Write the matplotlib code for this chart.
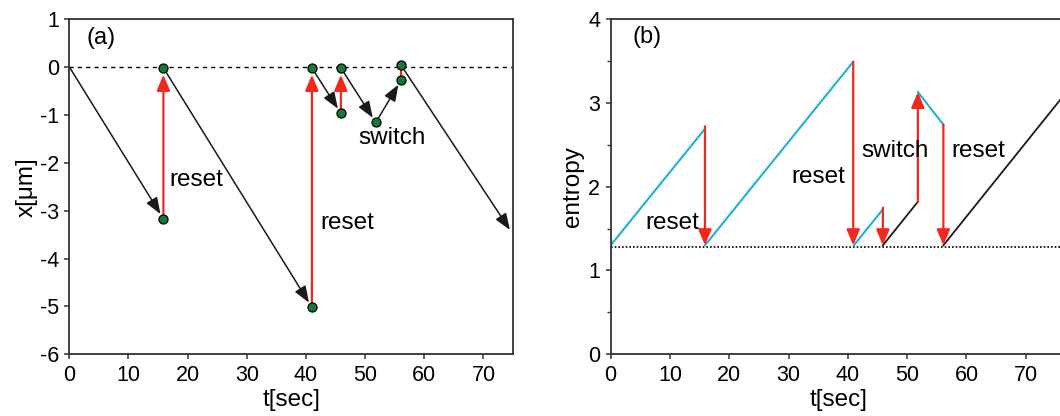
import numpy as np
import matplotlib
matplotlib.use("Agg")
import matplotlib.pyplot as plt

plt.rcParams['font.family'] = ['Liberation Sans', 'DejaVu Sans']
plt.rcParams['axes.unicode_minus'] = False

RED = '#f0281e'
CYAN = '#1fb1d4'
GREEN = '#137a3a'

# ---- panel (a): position x [um] vs t [sec]
dot_t = [15.9, 15.9, 41.0, 41.0, 45.9, 45.9, 51.8, 56.1, 56.1]
dot_x = [-3.17, -0.02, -5.02, -0.02, -0.97, -0.02, -1.16, -0.27, 0.03]

# drift arrows (t0, x0, t1, x1)
drift_a = [(0.0, 0.0, 15.9, -3.17),
           (15.9, -0.02, 41.0, -5.02),
           (41.0, -0.02, 45.9, -0.97),
           (45.9, -0.02, 51.8, -1.16),
           (51.8, -1.16, 56.1, -0.27),
           (56.1, 0.03, 75.0, -3.5)]
# reset arrows (t, x_from, x_to)
reset_a = [(15.9, -3.17, -0.02),
           (41.0, -5.02, -0.02),
           (45.9, -0.97, -0.02)]
switch_a = (56.1, -0.27, 0.03)

# ---- panel (b): entropy vs t
s_floor = 1.28
cyan_b = [(0.0, 1.30, 15.9, 2.69),
          (15.9, 1.30, 40.9, 3.49),
          (41.0, 1.30, 45.9, 1.73),
          (51.8, 3.13, 56.1, 2.74)]
black_b = [(45.9, 1.30, 51.8, 1.82),
           (56.1, 1.30, 78.0, 3.23)]
red_b = [(15.9, 2.72, 1.30),
         (40.9, 3.49, 1.30),
         (45.9, 1.75, 1.30),
         (51.8, 1.82, 3.13),
         (56.1, 2.74, 1.30)]

fig = plt.figure(figsize=(10.6, 4.16), dpi=100)
ax1 = fig.add_axes([0.0654, 0.1483, 0.4186, 0.806])
ax2 = fig.add_axes([0.5761, 0.1483, 0.4308, 0.806])

blk_style = '-|>,head_length=1.0,head_width=0.38'
red_style = '-|>,head_length=0.95,head_width=0.4'

# panel (a)
ax1.axhline(0, color='black', lw=1.0, ls=(0, (3, 3)), zorder=1)
for t0, x0, t1, x1 in drift_a:
    ax1.annotate('', xy=(t1, x1), xytext=(t0, x0),
                 arrowprops=dict(arrowstyle=blk_style, color='#1a1a1a', lw=1.1,
                                 shrinkA=0, shrinkB=4, mutation_scale=10),
                 annotation_clip=False, zorder=2)
for t, xa, xb in reset_a:
    ax1.annotate('', xy=(t, xb), xytext=(t, xa),
                 arrowprops=dict(arrowstyle=red_style, color=RED, lw=1.6,
                                 shrinkA=0, shrinkB=5, mutation_scale=10),
                 zorder=2)
ax1.plot([switch_a[0]] * 2, switch_a[1:], color=RED, lw=1.6, zorder=2)
ax1.plot(dot_t, dot_x, 'o', ms=6.5, mfc=GREEN, mec='black', mew=0.9, zorder=3)

ax1.text(5.3, 0.6, '(a)', fontsize=17, ha='center', va='center')
ax1.text(16.9, -2.36, 'reset', fontsize=17.5, ha='left', va='center')
ax1.text(42.4, -3.26, 'reset', fontsize=17.5, ha='left', va='center')
ax1.text(48.9, -1.48, 'switch', fontsize=17.5, ha='left', va='center')

ax1.set_xlim(0, 75)
ax1.set_ylim(-6, 1)
ax1.set_xticks(np.arange(0, 71, 10))
ax1.set_yticks(np.arange(-6, 2, 1))
ax1.set_xlabel('t[sec]', fontsize=17.5, labelpad=2)
ax1.set_ylabel('x[μm]', fontsize=17.5, labelpad=1)

# panel (b)
ax2.axhline(s_floor, color='black', lw=1.2, ls=(0, (1, 1.2)), zorder=1)
for t0, s0, t1, s1 in cyan_b:
    ax2.plot([t0, t1], [s0, s1], color=CYAN, lw=1.5, zorder=2)
for t0, s0, t1, s1 in black_b:
    ax2.plot([t0, t1], [s0, s1], color='#1a1a1a', lw=1.3, zorder=2)
for t, sa, sb in red_b:
    ax2.annotate('', xy=(t, sb), xytext=(t, sa),
                 arrowprops=dict(arrowstyle=red_style, color=RED, lw=1.6,
                                 shrinkA=0, shrinkB=0, mutation_scale=10),
                 zorder=3)

ax2.text(6.1, 3.79, '(b)', fontsize=17, ha='center', va='center')
ax2.text(5.8, 1.57, 'reset', fontsize=17.5, ha='left', va='center')
ax2.text(30.5, 2.11, 'reset', fontsize=17.5, ha='left', va='center')
ax2.text(42.3, 2.42, 'switch', fontsize=17.5, ha='left', va='center')
ax2.text(57.5, 2.42, 'reset', fontsize=17.5, ha='left', va='center')

ax2.set_xlim(0, 77)
ax2.set_ylim(0, 4)
ax2.set_xticks(np.arange(0, 71, 10))
ax2.set_yticks(np.arange(0, 5, 1))
ax2.set_yticks(np.arange(0.5, 4, 1), minor=True)
ax2.set_xlabel('t[sec]', fontsize=17.5, labelpad=2)
ax2.set_ylabel('entropy', fontsize=17.5, labelpad=3)

for ax in (ax1, ax2):
    for sp in ax.spines.values():
        sp.set_linewidth(1.3)
        sp.set_color('#333333')
    ax.tick_params(which='major', direction='out', length=3.6, width=1.1,
                   labelsize=15.5, pad=4, color='#333333')
    ax.tick_params(which='minor', direction='out', length=3.0, width=1.0,
                   color='#333333')

fig.savefig('out.png', dpi=100)
